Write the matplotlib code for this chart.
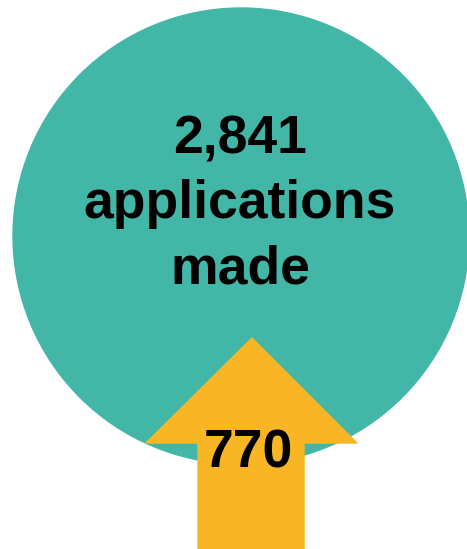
import matplotlib.pyplot as plt
from matplotlib.patches import Circle, Polygon

applications = 2841
label_lines = ["applications", "made"]
arrow_value = 770

fig = plt.figure(figsize=(4.67, 5.49), dpi=100)
ax = fig.add_axes([0, 0, 1, 1])
ax.set_xlim(0, 467)
ax.set_ylim(549, 0)
ax.set_aspect("equal")
ax.axis("off")

teal = "#42B7A8"
amber = "#F9B624"

ax.add_patch(Circle((241, 236), 228, color=teal, zorder=1))

# up arrow: head + shaft
arrow = Polygon(
    [(252, 338), (357, 443), (304, 443), (304, 560), (198, 560), (198, 443), (146, 443)],
    closed=True, color=amber, zorder=2,
)
ax.add_patch(arrow)

font = dict(family=["Liberation Sans", "DejaVu Sans"], fontweight="bold", fontsize=38.5,
            color="black", ha="center", va="baseline", zorder=3)
ax.text(240, 154, f"{applications:,}", **font)
ax.text(240, 218, label_lines[0], **font)
ax.text(240, 283, label_lines[1], **font)
ax.text(248, 467, f"{arrow_value:,}", **font)

fig.savefig("out.png", dpi=100)
plt.close(fig)
